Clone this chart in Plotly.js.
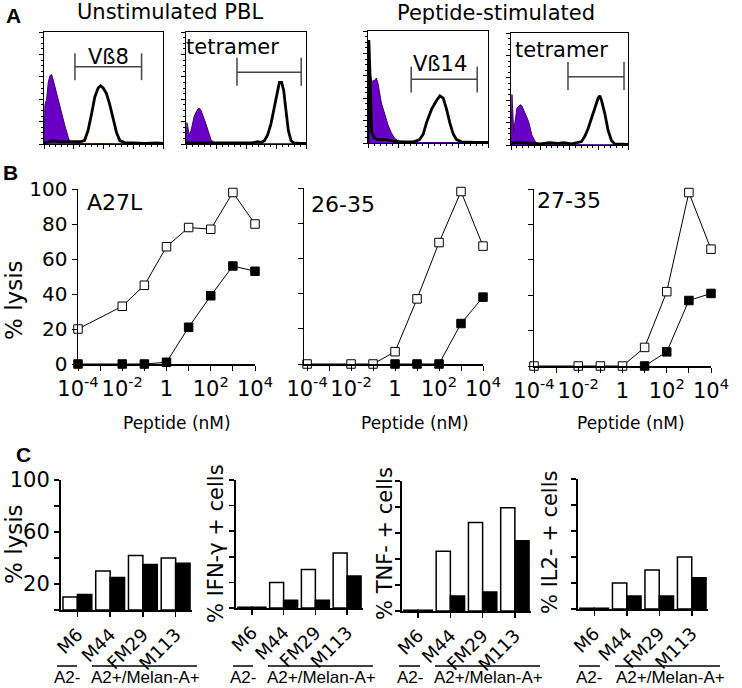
<!DOCTYPE html>
<html>
<head>
<meta charset="utf-8">
<script src="https://cdn.plot.ly/plotly-3.0.1.min.js"></script>
<style>html,body{margin:0;padding:0;background:#fff;}#chart{width:742px;height:688px;}</style>
</head>
<body>
<div id="chart"></div>
<script>
// ---------- Panel A: flow cytometry histograms (channel 0-100, % of max height) ----------
const h1CtrlX = [0,0.8,2.2,3.6,5.0,6.4,7.8,9.2,12,14.8,17.6,20.4,21.8,24.6,30,40,60,80,100];
const h1CtrlY = [0,35,40,55,61,62,57,51,40,28,16,6,2,0.5,0.3,0.5,0.3,0.2,0.2];
const h1StainX = [0,3,8,14,20,26,30,34,37,40,42.7,45.5,47.5,49.7,52.5,55.3,58,61,63.7,68,75,85,95,100];
const h1StainY = [1,2,3,2,2,1.5,2,3,12,27,42,50,52,50,45,35,22,10,3,1,1,0.5,1,0.5];

const h2CtrlX = [0,0.8,2.8,4.2,6.9,9.7,11.1,12.5,15.3,18,20.8,23.6,30,100];
const h2CtrlY = [0,19,8,12,25,31,32,30,22,12,4,1,0.3,0.2];
const h2StainX = [0,5,15,25,35,45,55,59.7,63,65.3,68,70.8,73.6,76.4,77.8,79.7,81.4,83.3,85.3,87.5,90,95,100];
const h2StainY = [1,1,0.5,1,0.5,1,1,2,1.5,3,8,18,32,48,55,55,48,30,12,3,1,0.5,0.5];

const h3CtrlX = [0,1.4,3,5.6,7,8.4,11.1,13.9,16.7,19.5,22.3,25,35,100];
const h3CtrlY = [0,67,55,56,58,53,36,25,16,9,4,2,0.5,0.3];
const h3StainX = [0,0.7,1.4,2.2,3,5,8,12,15,20,25,30,38,43,46,48.7,52.9,57.1,59.9,62.7,65.5,68.2,71,73.8,78,90,100];
const h3StainY = [0,92,70,40,10,5,3,3,3,2,1,1,1,3,8,18,30,38,42,40,30,18,8,3,1,0.5,0.5];

const h4CtrlX = [0,0.8,2.3,5.1,7.9,9.3,12.2,15,17.8,20.7,23.5,30,100];
const h4CtrlY = [0,45,12,33,36,35,28,21,9,3,1,0.3,0.2];
const h4StainX = [0,3,8,15,25,33,40,45,52,60.3,63.2,66,68.8,71.7,74.5,75.9,77.3,80.2,83,85.8,88.7,95,100];
const h4StainY = [1,2,2,1.5,1,2,1.5,2,1,3,8,15,25,33,42,44,40,28,13,4,1,0.5,0.5];

// gate brackets: [start channel, end channel]
const gate1 = [26, 82], gate2 = [42.5, 96], gate3 = [36, 91], gate4 = [48.7, 96.6];

// ---------- Panel B: % lysis vs peptide (nM) ----------
const conc = [1e-4, 1e-2, 1e-1, 1, 10, 100, 1000, 1e4];
const a27lOpen   = [20, 33, 45, 67, 78, 77, 98, 80];
const a27lFilled = [0, 0, 0, 1, 21, 39, 56, 53];
const p2635Open   = [0, 0, 0, 7, 37, 69, 98, 67];
const p2635FilledConc = [1, 10, 100, 1000, 1e4];
const p2635Filled = [0, 0, 0, 23, 38];
const p2735Open   = [0, 0, 0, 0, 10.5, 42, 98, 66];
const p2735FilledConc = [10, 100, 1000, 1e4];
const p2735Filled = [0, 8, 37, 41];
const concTicks = [1e-4, 1e-2, 1, 100, 1e4];
const concTickText = ['10<sup>-4</sup>', '10<sup>-2</sup>', '1', '10<sup>2</sup>', '10<sup>4</sup>'];
const concMinorTicks = [1e-3, 1e-1, 10, 1000];

// ---------- Panel C: bars ----------
const cells = ['M6','M44','FM29','M113'];
const lysisOpen = [10, 30, 42, 40];
const lysisFilled = [12, 25, 35, 36];
const ifnOpen = [0.6, 20, 30, 43];
const ifnFilled = [0.6, 6, 6, 25];
const tnfOpen = [0.6, 46, 68, 79.5];
const tnfFilled = [0.6, 11.5, 14.6, 54];
const il2Open = [0.6, 20, 30, 40];
const il2Filled = [0.6, 10, 10, 24];
const lysisTicks = [20, 60, 100];

// ---------- helpers ----------
const W = 742, H = 688;
const xd = (a, b) => [a / W, b / W];
const yd = (t, b) => [1 - b / H, 1 - t / H];
const px = v => v / W, py = v => 1 - v / H;
const PURPLE = '#6a00c8';
const FONT = 'DejaVu Sans';
const ARIAL = 'Liberation Sans';

const traces = [];
function hist(n, cx, cy, sx, sy) {
  const xa = n === 1 ? 'x' : 'x' + n, ya = n === 1 ? 'y' : 'y' + n;
  traces.push({x: cx, y: cy, xaxis: xa, yaxis: ya, type: 'scatter', mode: 'lines',
    fill: 'tozeroy', fillcolor: PURPLE, line: {color: '#3a0070', width: 1}, hoverinfo: 'skip'});
  traces.push({x: sx, y: sy, xaxis: xa, yaxis: ya, type: 'scatter', mode: 'lines',
    line: {color: '#000', width: 2.8}, hoverinfo: 'skip'});
}
hist(1, h1CtrlX, h1CtrlY, h1StainX, h1StainY);
hist(2, h2CtrlX, h2CtrlY, h2StainX, h2StainY);
hist(3, h3CtrlX, h3CtrlY, h3StainX, h3StainY);
hist(4, h4CtrlX, h4CtrlY, h4StainX, h4StainY);

function lineTr(n, x, y, filled) {
  traces.push({x: x, y: y, xaxis: 'x' + n, yaxis: 'y' + n, type: 'scatter', mode: 'lines+markers',
    cliponaxis: false,
    line: {color: '#000', width: 1},
    marker: {symbol: 'square', size: 8.5, color: filled ? '#000' : '#fff', line: {color: '#000', width: 1}}});
}
lineTr(5, conc, a27lFilled, true);
lineTr(5, conc, a27lOpen, false);
lineTr(6, p2635FilledConc, p2635Filled, true);
lineTr(6, conc, p2635Open, false);
lineTr(7, p2735FilledConc, p2735Filled, true);
lineTr(7, conc, p2735Open, false);

function barTr(n, open, filled) {
  traces.push({x: cells, y: open, xaxis: 'x' + n, yaxis: 'y' + n, type: 'bar',
    marker: {color: '#fff', line: {color: '#000', width: 1.5}}, cliponaxis: false});
  traces.push({x: cells, y: filled, xaxis: 'x' + n, yaxis: 'y' + n, type: 'bar',
    marker: {color: '#000', line: {color: '#000', width: 1.5}}, cliponaxis: false});
}
barTr(8, lysisOpen, lysisFilled);
barTr(9, ifnOpen, ifnFilled);
barTr(10, tnfOpen, tnfFilled);
barTr(11, il2Open, il2Filled);

const layout = {
  width: W, height: H, margin: {l: 0, r: 0, t: 0, b: 0},
  paper_bgcolor: '#fff', plot_bgcolor: 'rgba(0,0,0,0)',
  showlegend: false, barmode: 'group', bargap: 0.12, bargroupgap: 0,
  font: {family: FONT, color: '#000', size: 14},
  annotations: [], shapes: []
};

// hist axes
const histDom = [[44,163,32,144],[186,306,32,144],[368,488,31,143],[511,628,33,145]];
histDom.forEach((d, i) => {
  const k = i === 0 ? '' : String(i + 1);
  layout['xaxis' + k] = {domain: xd(d[0], d[1]), anchor: 'y' + k, range: [0, 100], showgrid: false, zeroline: false,
    showline: true, mirror: true, linecolor: '#000', linewidth: 1, ticks: 'outside', ticklen: 4, tickcolor: '#000',
    dtick: 25, tick0: 0, showticklabels: false, minor: {ticks: 'outside', ticklen: 2, dtick: 5, tickcolor: '#000'}};
  layout['yaxis' + k] = {domain: yd(d[2], d[3]), anchor: 'x' + k, range: [0, 100], showgrid: false, zeroline: false,
    showline: true, mirror: true, linecolor: '#000', linewidth: 1, ticks: 'outside', ticklen: 4, tickcolor: '#000',
    dtick: 20, tick0: 0, showticklabels: false, minor: {ticks: 'outside', ticklen: 2, dtick: 5, tickcolor: '#000'}};
});

// line chart axes
const lineDom = [[78,255,189,364,[-4,4],true],[304,483,188,364,[-4.14,4],false],[534,711,189,366,[-4,4],false]];
lineDom.forEach((d, i) => {
  const n = 5 + i;
  layout['xaxis' + n] = {domain: xd(d[0], d[1]), anchor: 'y' + n, type: 'log', range: d[4], showgrid: false, zeroline: false,
    showline: true, linecolor: '#000', linewidth: 1.5, ticks: 'outside', ticklen: 5, tickcolor: '#000',
    tickmode: 'array', tickvals: concTicks, ticktext: concTickText, tickfont: {size: 21, family: FONT},
    minor: {tickmode: 'array', tickvals: concMinorTicks, ticks: 'outside', ticklen: 5, tickcolor: '#000', showgrid: false}};
  layout['yaxis' + n] = {domain: yd(d[2], d[3]), anchor: 'x' + n, range: [0, 100], showgrid: false, zeroline: false,
    showline: true, linecolor: '#000', linewidth: 1.5, ticks: 'outside', ticklen: 5, tickcolor: '#000',
    dtick: 20, showticklabels: d[5], tickfont: {size: 20, family: FONT}};
});

// bar axes
const barDom = [[61,192,480,610,true],[236,363,480,608,false],[402,531,481,611,false],[578,708,479,609,false]];
barDom.forEach((d, i) => {
  const n = 8 + i;
  layout['xaxis' + n] = {domain: xd(d[0], d[1]), anchor: 'y' + n, type: 'category', showgrid: false, zeroline: false,
    showline: true, linecolor: '#000', linewidth: 2, ticks: 'outside', ticklen: 5, tickcolor: '#000', tickwidth: 1.5,
    tickangle: -45, tickfont: {size: 18, family: FONT}};
  const ya = {domain: yd(d[2], d[3]), anchor: 'x' + n, range: [0, 100], showgrid: false, zeroline: false,
    showline: true, linecolor: '#000', linewidth: 2, ticks: 'outside', ticklen: 5, tickcolor: '#000', tickwidth: 1.5,
    showticklabels: d[4], tickfont: {size: 21, family: FONT}};
  if (d[4]) {
    ya.tickmode = 'array'; ya.tickvals = lysisTicks;
    ya.minor = {tickmode: 'array', tickvals: [0, 40, 80], ticks: 'outside', ticklen: 5, tickwidth: 1.5, tickcolor: '#000', showgrid: false};
  } else {
    ya.dtick = 20; ya.tick0 = 0;
  }
  layout['yaxis' + n] = ya;
});

// gate brackets in panel A
const gates = [[gate1, 69, 81, 57], [gate2, 64, 77, 52], [gate3, 57, 68, 45], [gate4, 61, 74, 49]];
gates.forEach((g, i) => {
  const xr = i === 0 ? 'x' : 'x' + (i + 1), yr = i === 0 ? 'y' : 'y' + (i + 1);
  const ln = {color: '#444', width: 1.5};
  layout.shapes.push({type: 'line', xref: xr, yref: yr, x0: g[0][0], x1: g[0][1], y0: g[1], y1: g[1], line: ln});
  layout.shapes.push({type: 'line', xref: xr, yref: yr, x0: g[0][0], x1: g[0][0], y0: g[3], y1: g[2], line: ln});
  layout.shapes.push({type: 'line', xref: xr, yref: yr, x0: g[0][1], x1: g[0][1], y0: g[3], y1: g[2], line: ln});
});

// group lines panel C
const groupLines = [[57,77],[92,197],[233,253],[268,373],[399,420],[435,540],[579,600],[615,720]];
groupLines.forEach(g => layout.shapes.push({type: 'line', xref: 'paper', yref: 'paper',
  x0: px(g[0]), x1: px(g[1]), y0: py(666), y1: py(666), line: {color: '#000', width: 1.5}}));

function ann(text, x, y, size, family, extra) {
  layout.annotations.push(Object.assign({text: text, x: px(x), y: py(y), xref: 'paper', yref: 'paper',
    showarrow: false, xanchor: 'center', yanchor: 'middle', borderpad: 0,
    font: {size: size, family: family || FONT, color: '#000'}}, extra || {}));
}
ann('<b>A</b>', 13, 15, 21, ARIAL);
ann('<b>B</b>', 10, 172, 21, ARIAL);
ann('<b>C</b>', 23, 455, 21, ARIAL);
ann('Unstimulated PBL', 170, 12, 21);
ann('Peptide-stimulated', 496, 13, 21);
ann('Vß8', 108, 57, 21);
ann('tetramer', 232, 47, 21);
ann('Vß14', 440, 64, 21);
ann('tetramer', 561, 50, 21);
ann('A27L', 115, 203, 22);
ann('26-35', 343, 205, 22);
ann('27-35', 569, 200, 22);
ann('% lysis', 14, 300, 23, FONT, {textangle: -90});
ann('Peptide (nM)', 177, 423, 17);
ann('Peptide (nM)', 415, 423, 17);
ann('Peptide (nM)', 631, 423, 17);
ann('% lysis', 14, 544, 23, FONT, {textangle: -90});
ann('% IFN-γ + cells', 216, 544, 21, FONT, {textangle: -90});
ann('% TNF- + cells', 385, 544, 21, FONT, {textangle: -90});
ann('% IL2- + cells', 550, 543, 21, FONT, {textangle: -90});
const grp = [[67,145],[243,321],[410,488],[589,670]];
grp.forEach(g => {
  ann('A2-', g[0], 677, 17, ARIAL);
  ann('A2+/Melan-A+', g[1], 677, 17, ARIAL);
});

Plotly.newPlot('chart', traces, layout, {displayModeBar: false, staticPlot: true});
</script>
</body>
</html>
